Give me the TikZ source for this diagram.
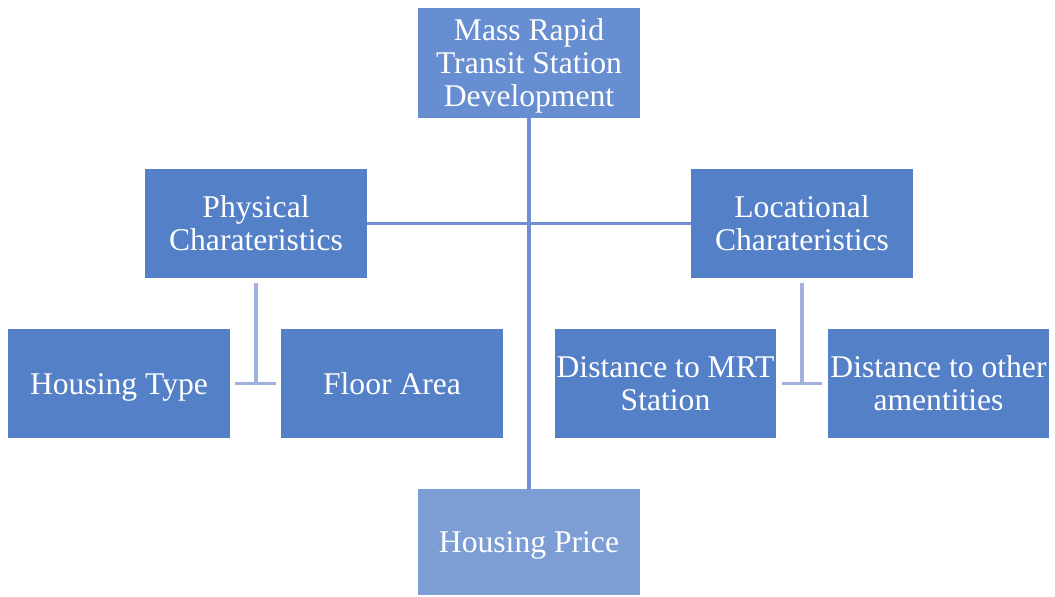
\documentclass[tikz,border=0pt]{standalone}
\usepackage{fontspec}
\setmainfont{Liberation Serif}
\usepackage{xcolor}
\definecolor{boxblue}{RGB}{84,128,200}
\definecolor{topblue}{RGB}{102,142,208}
\definecolor{priceblue}{RGB}{125,158,212}
\definecolor{linkblue}{RGB}{112,142,210}
\definecolor{leafline}{RGB}{162,176,222}
% same first line height in every box
\newcommand{\boxstrut}{\rule{0pt}{17pt}}

\tikzset{
  factor/.style={fill=boxblue,text=white,minimum width=4.44cm,minimum height=2.2cm,
    align=center,inner sep=0pt,font=\fontsize{18}{19}\selectfont,
    execute at end node={\rule[-5pt]{0pt}{5pt}}},
  link/.style={draw=linkblue,line width=2pt},
  leaflink/.style={draw=leafline,line width=2pt}
}

\begin{document}
\begin{tikzpicture}[x=0.02cm,y=-0.02cm]
    \useasboundingbox (0,0) rectangle (1055,596);
    \node [factor,fill=topblue] (top) at (529,63) {\boxstrut Mass Rapid\\Transit Station\\Development};
    \node [factor] (phys) at (256,223.5) {\boxstrut Physical\\Charateristics};
    \node [factor] (loc) at (802,223.5) {\boxstrut Locational\\Charateristics};
    \node [factor] (htype) at (119,383.5) {\boxstrut Housing Type};
    \node [factor] (farea) at (392,383.5) {\boxstrut Floor Area};
    \node [factor] (dmrt) at (665.5,383.5) {\boxstrut Distance to MRT\\Station};
    \node [factor] (damen) at (938.5,383.5) {\boxstrut Distance to other\\amentities};
    \node [factor,fill=priceblue,minimum height=2.12cm] (price) at (529,542) {\boxstrut Housing Price};

    % main axis and the two groups
    \path [link] (top.south) -- (price.north);
    \path [link] (phys.east) -- (loc.west);

    % leaves under each group
    \path [leaflink] ([yshift=-0.08cm]phys.south) -- (phys.south |- htype.east);
    \path [leaflink] ([xshift=0.1cm]htype.east) -- ([xshift=-0.1cm]farea.west);
    \path [leaflink] ([yshift=-0.08cm]loc.south) -- (loc.south |- dmrt.east);
    \path [leaflink] ([xshift=0.1cm]dmrt.east) -- ([xshift=-0.1cm]damen.west);
\end{tikzpicture}
\end{document}
